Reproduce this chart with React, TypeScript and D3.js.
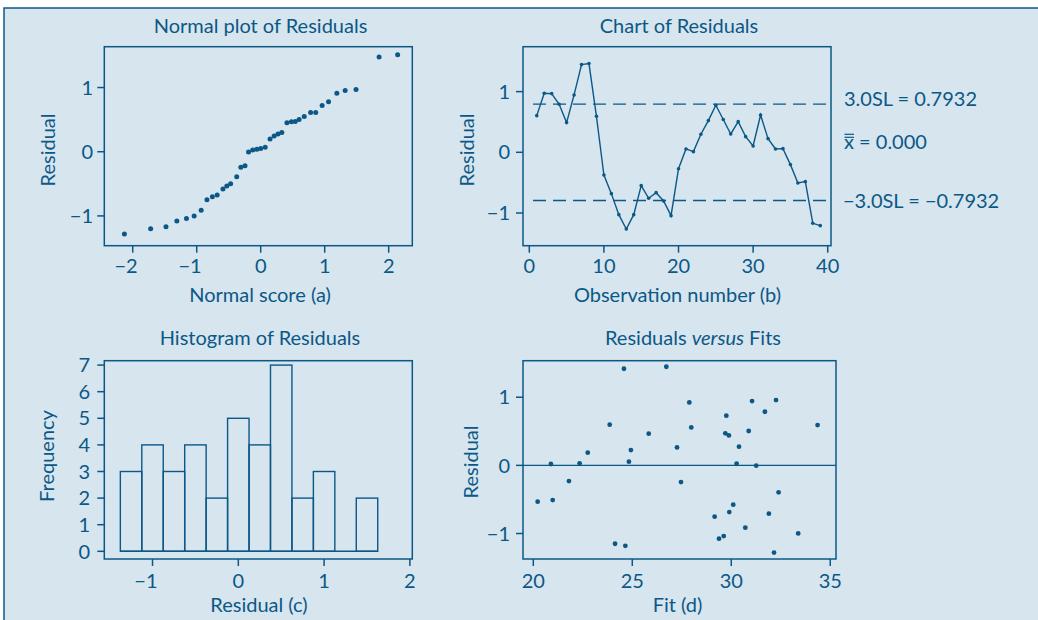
import React from "react";
import * as d3 from "d3";

const INK = "#0b5886";
const BG = "#d7e5ef";
const FONT = "Lato, 'Open Sans', sans-serif";
const FS = 20;

// (a) Normal plot of residuals
const normalScores = [-2.13, -1.72, -1.48, -1.31, -1.16, -1.04, -0.93, -0.84, -0.755, -0.68, -0.59, -0.53, -0.47, -0.375, -0.31, -0.245, -0.19, -0.125, -0.06, 0, 0.07, 0.146, 0.21, 0.27, 0.33, 0.41, 0.48, 0.54, 0.6, 0.68, 0.78, 0.86, 0.96, 1.06, 1.19, 1.32, 1.49, 1.85, 2.14];
const normalResiduals = [-1.28, -1.2, -1.17, -1.08, -1.04, -1.0, -0.91, -0.75, -0.7, -0.675, -0.58, -0.535, -0.5, -0.39, -0.24, -0.22, -0.005, 0.026, 0.04, 0.05, 0.07, 0.197, 0.244, 0.275, 0.3, 0.45, 0.467, 0.47, 0.5, 0.55, 0.61, 0.61, 0.72, 0.78, 0.91, 0.955, 0.97, 1.475, 1.51];
const normalXTicks = [-2, -1, 0, 1, 2];
const residualYTicks = [-1, 0, 1];

// (b) Chart of residuals
const chartResiduals = [0.604, 0.973, 0.967, 0.791, 0.489, 0.945, 1.445, 1.462, 0.593, -0.374, -0.681, -1.027, -1.264, -1.027, -0.549, -0.758, -0.665, -0.802, -1.044, -0.27, 0.055, 0.011, 0.297, 0.522, 0.775, 0.54, 0.302, 0.505, 0.258, 0.104, 0.615, 0.225, 0.055, 0.06, -0.203, -0.505, -0.484, -1.17, -1.209];
const observationTicks = [0, 10, 20, 30, 40];
const UCL = 0.7932;
const LCL = -0.7932;
const CENTER = 0;
const limitSpan = [0.5, 39.8];

// (c) Histogram of residuals
const binMids = [-1.25, -1.0, -0.75, -0.5, -0.25, 0, 0.25, 0.5, 0.75, 1.0, 1.25, 1.5];
const binCounts = [3, 4, 3, 4, 2, 5, 4, 7, 2, 3, 0, 2];
const binWidth = 0.25;
const histXTicks = [-1, 0, 1, 2];
const freqTicks = [0, 1, 2, 3, 4, 5, 6, 7];

// (d) Residuals versus fits
const fits = [20.22, 20.89, 20.98, 21.8, 22.34, 22.75, 23.86, 24.13, 24.58, 24.65, 24.83, 24.93, 25.83, 26.72, 27.26, 27.46, 27.88, 27.98, 29.16, 29.38, 29.62, 29.7, 29.75, 29.88, 29.9, 30.1, 30.27, 30.39, 30.71, 30.88, 31.05, 31.26, 31.7, 31.9, 32.16, 32.26, 32.39, 33.38, 34.36];
const fitResiduals = [-0.533, 0.02, -0.51, -0.23, 0.03, 0.186, 0.597, -1.15, 1.418, -1.18, 0.054, 0.225, 0.465, 1.447, 0.264, -0.245, 0.924, 0.557, -0.753, -1.076, -1.037, 0.47, 0.729, 0.44, -0.685, -0.577, 0.024, 0.274, -0.914, 0.504, 0.944, -0.005, 0.787, -0.709, -1.28, 0.958, -0.396, -0.998, 0.592];
const fitTicks = [20, 25, 30, 35];

type Scale = d3.ScaleLinear<number, number>;

function fmt(v: number) {
  return v < 0 ? "\u2212" + Math.abs(v) : String(v);
}

function Frame({ x, y }: { x: Scale; y: Scale }) {
  const [x0, x1] = x.range();
  const [y0, y1] = y.range();
  return (
    <rect x={x0} y={y1} width={x1 - x0} height={y0 - y1} fill="none" stroke={INK} strokeWidth={1.5} />
  );
}

function XAxis({ x, y, ticks, labelY, hang }: { x: Scale; y: Scale; ticks: number[]; labelY: number; hang: boolean }) {
  const yb = y.range()[0];
  return (
    <g>
      {ticks.map((t) => (
        <g key={t}>
          <line x1={x(t)} x2={x(t)} y1={yb} y2={yb + 7} stroke={INK} strokeWidth={1.5} />
          {t < 0 && hang ? (
            <text x={x(t) + 5} y={labelY} textAnchor="end" fill={INK} fontSize={FS} fontFamily={FONT}>{fmt(t)}</text>
          ) : (
            <text x={x(t)} y={labelY} textAnchor="middle" fill={INK} fontSize={FS} fontFamily={FONT}>{fmt(t)}</text>
          )}
        </g>
      ))}
    </g>
  );
}

function YAxis({ x, y, ticks, labelX }: { x: Scale; y: Scale; ticks: number[]; labelX: number }) {
  const xl = x.range()[0];
  return (
    <g>
      {ticks.map((t) => (
        <g key={t}>
          <line x1={xl - 7} x2={xl} y1={y(t)} y2={y(t)} stroke={INK} strokeWidth={1.5} />
          <text x={labelX} y={y(t)} dy="0.36em" textAnchor="end" fill={INK} fontSize={FS} fontFamily={FONT}>{fmt(t)}</text>
        </g>
      ))}
    </g>
  );
}

function Label({ x, y, children, rotate = false }: any) {
  return (
    <text
      transform={rotate ? `translate(${x},${y}) rotate(-90)` : undefined}
      x={rotate ? 0 : x}
      y={rotate ? 0 : y}
      textAnchor="middle"
      fill={INK}
      fontSize={FS}
      fontFamily={FONT}
    >
      {children}
    </text>
  );
}

export default function App() {
  // panel (a)
  const xa = d3.scaleLinear().domain([-2.444, 2.369]).range([104.3, 412.3]);
  const ya = d3.scaleLinear().domain([-1.464, 1.636]).range([245.7, 46.7]);
  // panel (b)
  const xb = d3.scaleLinear().domain([-0.845, 40.44]).range([523, 831]);
  const yb = d3.scaleLinear().domain([-1.539, 1.74]).range([245.7, 46.7]);
  // panel (c)
  const xc = d3.scaleLinear().domain([-1.562, 2.028]).range([104.3, 412.3]);
  const yc = d3.scaleLinear().domain([-0.289, 7.165]).range([559, 360.7]);
  // panel (d)
  const xd = d3.scaleLinear().domain([19.48, 35.29]).range([523, 836]);
  const yd = d3.scaleLinear().domain([-1.374, 1.536]).range([559, 360.7]);

  const chartLine = d3
    .line<number>()
    .x((_, i) => xb(i + 1))
    .y((d) => yb(d))
    .curve(d3.curveLinear)(chartResiduals);

  const cx = 844;

  return (
    <svg
      width={1038}
      height={620}
      style={{ position: "fixed", left: 0, top: 0, background: "#ffffff" }}
    >
      <rect x={4} y={8} width={1200} height={800} fill={BG} stroke={INK} strokeWidth={1.5} />

      {/* (a) Normal plot */}
      <Label x={260.5} y={33}>Normal plot of Residuals</Label>
      <Frame x={xa} y={ya} />
      <XAxis x={xa} y={ya} ticks={normalXTicks} labelY={273} hang={true} />
      <YAxis x={xa} y={ya} ticks={residualYTicks} labelX={93} />
      <Label x={260} y={302}>Normal score (a)</Label>
      <Label x={55} y={150} rotate>Residual</Label>
      {normalScores.map((s, i) => (
        <circle key={i} cx={xa(s)} cy={ya(normalResiduals[i])} r={2.5} fill={INK} />
      ))}

      {/* (b) Chart of residuals */}
      <Label x={679} y={33}>Chart of Residuals</Label>
      <Frame x={xb} y={yb} />
      <XAxis x={xb} y={yb} ticks={observationTicks} labelY={273} hang={false} />
      <YAxis x={xb} y={yb} ticks={residualYTicks} labelX={510} />
      <Label x={677.5} y={302}>Observation number (b)</Label>
      <Label x={474} y={150} rotate>Residual</Label>
      {[UCL, LCL].map((v) => (
        <line key={v} x1={xb(limitSpan[0])} x2={xb(limitSpan[1])} y1={yb(v)} y2={yb(v)} stroke={INK} strokeWidth={1.4} strokeDasharray="13 7" />
      ))}
      <path d={chartLine || ""} fill="none" stroke={INK} strokeWidth={1.4} />
      {chartResiduals.map((v, i) => (
        <circle key={i} cx={xb(i + 1)} cy={yb(v)} r={1.8} fill={INK} />
      ))}
      <text x={cx} y={yb(UCL) + 2} fill={INK} fontSize={FS} fontFamily={FONT}>3.0SL = 0.7932</text>
      <text x={cx} y={yb(CENTER) - 3} fill={INK} fontSize={FS} fontFamily={FONT}>x = 0.000</text>
      <line x1={cx + 0.5} x2={cx + 10} y1={yb(CENTER) - 18} y2={yb(CENTER) - 18} stroke={INK} strokeWidth={1.2} />
      <line x1={cx + 0.5} x2={cx + 10} y1={yb(CENTER) - 15} y2={yb(CENTER) - 15} stroke={INK} strokeWidth={1.2} />
      <text x={cx - 1} y={yb(LCL) + 8} fill={INK} fontSize={FS} fontFamily={FONT}>{"\u22123.0SL = \u22120.7932"}</text>

      {/* (c) Histogram */}
      <Label x={260} y={345}>Histogram of Residuals</Label>
      <Frame x={xc} y={yc} />
      <XAxis x={xc} y={yc} ticks={histXTicks} labelY={588} hang={true} />
      <YAxis x={xc} y={yc} ticks={freqTicks} labelX={90} />
      <Label x={259} y={612}>Residual (c)</Label>
      <Label x={54} y={456} rotate>Frequency</Label>
      {binMids.map((m, i) =>
        binCounts[i] > 0 ? (
          <rect
            key={i}
            x={xc(m - binWidth / 2)}
            y={yc(binCounts[i])}
            width={xc(m + binWidth / 2) - xc(m - binWidth / 2)}
            height={yc(0) - yc(binCounts[i])}
            fill="none"
            stroke={INK}
            strokeWidth={1.4}
          />
        ) : null
      )}
      <line x1={xc(binMids[0] - binWidth / 2)} x2={xc(binMids[binMids.length - 1] + binWidth / 2)} y1={yc(0)} y2={yc(0)} stroke={INK} strokeWidth={1.4} />

      {/* (d) Residuals versus fits */}
      <text x={693} y={345} textAnchor="middle" fill={INK} fontSize={FS} fontFamily={FONT}>
        Residuals <tspan fontStyle="italic">versus</tspan> Fits
      </text>
      <Frame x={xd} y={yd} />
      <XAxis x={xd} y={yd} ticks={fitTicks} labelY={588} hang={false} />
      <YAxis x={xd} y={yd} ticks={residualYTicks} labelX={510} />
      <Label x={677.5} y={612}>Fit (d)</Label>
      <Label x={478} y={462} rotate>Residual</Label>
      <line x1={xd.range()[0]} x2={xd.range()[1]} y1={yd(0)} y2={yd(0)} stroke={INK} strokeWidth={1.4} />
      {fits.map((f, i) => (
        <circle key={i} cx={xd(f)} cy={yd(fitResiduals[i])} r={2.4} fill={INK} />
      ))}
    </svg>
  );
}
